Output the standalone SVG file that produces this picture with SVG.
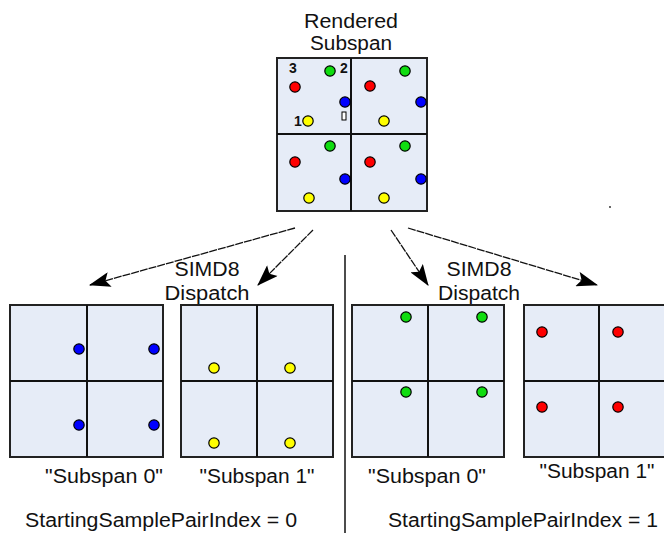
<svg xmlns="http://www.w3.org/2000/svg" width="664" height="533" viewBox="0 0 664 533">
<defs>
<style>
text{font-family:"Liberation Sans",Arial,sans-serif;fill:#111;}
.lbl{font-size:20px;}
.num{font-size:14px;font-weight:bold;}
.box{fill:#e6ecf7;stroke:#222;stroke-width:2;}
.grid{stroke:#111;stroke-width:2;fill:none;}
.r{fill:#ff0000;stroke:#000;stroke-width:1.2;}
.g{fill:#10dd10;stroke:#000;stroke-width:1.2;}
.b{fill:#0000ff;stroke:#000;stroke-width:1.2;}
.y{fill:#ffff00;stroke:#000;stroke-width:1.2;}
.conn{stroke:#111;stroke-width:1.3;fill:none;stroke-dasharray:8 1;marker-end:url(#ah);}
</style>
<marker id="ah" viewBox="0 0 20 14" refX="19" refY="7" markerWidth="22" markerHeight="15" markerUnits="userSpaceOnUse" orient="auto">
<path d="M0,0 L20,7 L0,14 L4,7 Z" fill="#000"/>
</marker>
</defs>

<g id="rendered-subspan">
<text class="lbl" x="351" y="28" text-anchor="middle" textLength="94" lengthAdjust="spacingAndGlyphs">Rendered</text>
<text class="lbl" x="351" y="50" text-anchor="middle" textLength="82" lengthAdjust="spacingAndGlyphs">Subspan</text>
<rect class="box" x="277" y="58" width="150" height="153"/>
<path class="grid" d="M351,58 V211 M277,134 H427"/>
<text class="num" x="293" y="73" text-anchor="middle">3</text>
<text class="num" x="344" y="73" text-anchor="middle">2</text>
<text class="num" x="298" y="126" text-anchor="middle">1</text>
<circle class="g" cx="330" cy="71" r="5.2"/>
<circle class="r" cx="295" cy="87" r="5.2"/>
<circle class="b" cx="345" cy="102" r="5.2"/>
<circle class="y" cx="308" cy="121" r="5.2"/>
<rect x="342" y="112" width="4" height="8" fill="#fff" stroke="#000" stroke-width="1"/>
<circle class="g" cx="405" cy="71" r="5.2"/>
<circle class="r" cx="370" cy="86" r="5.2"/>
<circle class="b" cx="421" cy="102" r="5.2"/>
<circle class="y" cx="384" cy="121" r="5.2"/>
<circle class="g" cx="330" cy="146" r="5.2"/>
<circle class="r" cx="295" cy="162" r="5.2"/>
<circle class="b" cx="345" cy="179" r="5.2"/>
<circle class="y" cx="309" cy="198" r="5.2"/>
<circle class="g" cx="405" cy="146" r="5.2"/>
<circle class="r" cx="370" cy="162" r="5.2"/>
<circle class="b" cx="421" cy="179" r="5.2"/>
<circle class="y" cx="384" cy="198" r="5.2"/>
</g>

<g id="connectors">
<line class="conn" x1="295" y1="228" x2="90" y2="285"/>
<line class="conn" x1="313" y1="230" x2="258" y2="285"/>
<line class="conn" x1="391" y1="230" x2="428" y2="285"/>
<line class="conn" x1="408" y1="228" x2="597" y2="285"/>
<line x1="345" y1="255" x2="345" y2="533" stroke="#111" stroke-width="1.5"/>
</g>

<g id="dispatch-left">
<text class="lbl" x="207" y="276" text-anchor="middle" textLength="65" lengthAdjust="spacingAndGlyphs">SIMD8</text>
<text class="lbl" x="207" y="300" text-anchor="middle" textLength="85" lengthAdjust="spacingAndGlyphs">Dispatch</text>
</g>
<g id="dispatch-right">
<text class="lbl" x="479" y="276" text-anchor="middle" textLength="65" lengthAdjust="spacingAndGlyphs">SIMD8</text>
<text class="lbl" x="479" y="300" text-anchor="middle" textLength="82" lengthAdjust="spacingAndGlyphs">Dispatch</text>
</g>

<g id="subspan0-left">
<rect class="box" x="10" y="305" width="153" height="152"/>
<path class="grid" d="M87,305 V457 M10,381 H163"/>
<circle class="b" cx="79" cy="349" r="5.2"/>
<circle class="b" cx="154" cy="349" r="5.2"/>
<circle class="b" cx="79" cy="425" r="5.2"/>
<circle class="b" cx="154" cy="425" r="5.2"/>
<text class="lbl" x="104" y="483" text-anchor="middle" textLength="118" lengthAdjust="spacingAndGlyphs">"Subspan 0"</text>
</g>

<g id="subspan1-left">
<rect class="box" x="181" y="305" width="152" height="152"/>
<path class="grid" d="M257,305 V457 M181,381 H333"/>
<circle class="y" cx="214" cy="368" r="5.2"/>
<circle class="y" cx="290" cy="368" r="5.2"/>
<circle class="y" cx="214" cy="443" r="5.2"/>
<circle class="y" cx="290" cy="443" r="5.2"/>
<text class="lbl" x="257" y="483" text-anchor="middle" textLength="115" lengthAdjust="spacingAndGlyphs">"Subspan 1"</text>
</g>

<g id="subspan0-right">
<rect class="box" x="352" y="305" width="152" height="152"/>
<path class="grid" d="M428,305 V457 M352,381 H504"/>
<circle class="g" cx="406" cy="317" r="5.2"/>
<circle class="g" cx="482" cy="317" r="5.2"/>
<circle class="g" cx="406" cy="392" r="5.2"/>
<circle class="g" cx="482" cy="392" r="5.2"/>
<text class="lbl" x="427" y="483" text-anchor="middle" textLength="118" lengthAdjust="spacingAndGlyphs">"Subspan 0"</text>
</g>

<g id="subspan1-right">
<rect class="box" x="524" y="305" width="152" height="152"/>
<path class="grid" d="M599,305 V457 M524,381 H676"/>
<circle class="r" cx="542" cy="332" r="5.2"/>
<circle class="r" cx="618" cy="332" r="5.2"/>
<circle class="r" cx="542" cy="407" r="5.2"/>
<circle class="r" cx="618" cy="407" r="5.2"/>
<text class="lbl" x="597" y="478" text-anchor="middle" textLength="115" lengthAdjust="spacingAndGlyphs">"Subspan 1"</text>
</g>

<g id="index-left">
<text class="lbl" x="25" y="527" textLength="272" lengthAdjust="spacingAndGlyphs">StartingSamplePairIndex = 0</text>
</g>
<g id="index-right">
<text class="lbl" x="388" y="527" textLength="270" lengthAdjust="spacingAndGlyphs">StartingSamplePairIndex = 1</text>
</g>
<circle cx="610" cy="207" r="0.9" fill="#222"/>
</svg>
